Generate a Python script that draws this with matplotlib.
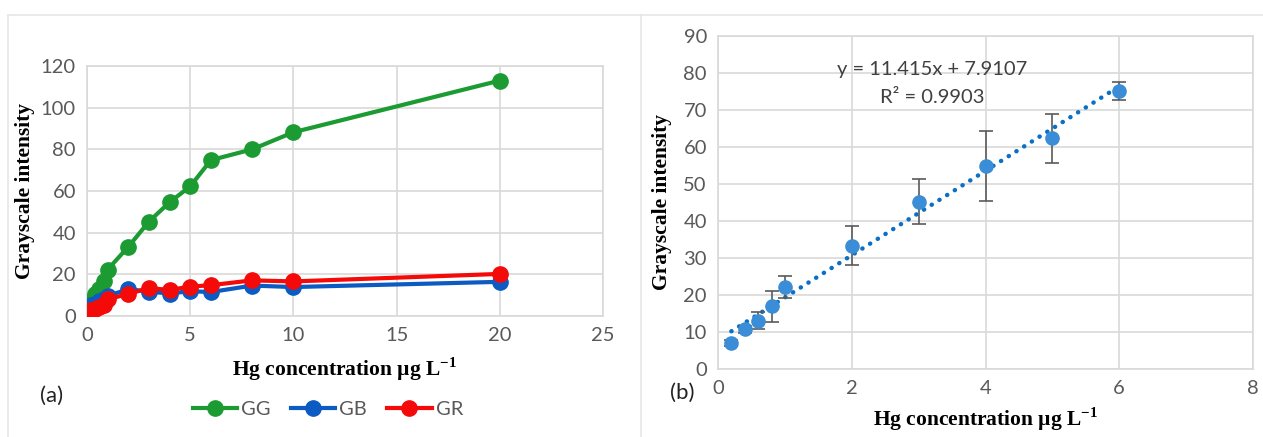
import matplotlib
matplotlib.use("Agg")
import matplotlib.pyplot as plt
from matplotlib.lines import Line2D
import numpy as np

# ---- data ----
conc_all = [0.2, 0.4, 0.6, 0.8, 1, 2, 3, 4, 5, 6, 8, 10, 20]
gg = [7, 10.8, 13.2, 17, 22.3, 33.2, 45.3, 54.6, 62.2, 74.8, 80, 88.2, 113]
gb = [5.5, 6.0, 7.0, 8.0, 9.6, 12.9, 11.7, 10.8, 11.9, 11.5, 14.6, 13.9, 16.4]
gr = [3.0, 3.6, 4.4, 5.5, 8.0, 10.6, 13.4, 12.5, 14.1, 14.8, 17.1, 16.6, 20.2]

conc_lin = [0.2, 0.4, 0.6, 0.8, 1, 2, 3, 4, 5, 6]
gray_lin = [7.0, 10.7, 13.1, 16.9, 22.2, 33.3, 45.2, 54.8, 62.3, 75.1]
err_lin = [0.8, 1.0, 2.3, 4.2, 2.9, 5.3, 6.1, 9.4, 6.7, 2.4]
slope, intercept = 11.415, 7.9107
r2 = 0.9903

GREEN = "#1C9B33"
BLUE = "#0B5BC2"
RED = "#F50A0A"
PT = "#3A8DD6"
TREND = "#0A6FC6"
GRID = "#D9D9D9"
TICK = "#595959"

fig = plt.figure(figsize=(12.63, 4.37), dpi=100)
W, H = 1263, 437

def px(x0, y0, x1, y1):
    return [x0 / W, 1 - y1 / H, (x1 - x0) / W, (y1 - y0) / H]

TFAM = "Lato"
tickfont = dict(family=TFAM, size=14.5, color=TICK)
labfont = dict(family="Liberation Serif", weight="bold", size=15.5, color="black")

# frame lines
fig.add_artist(Line2D([8 / W, 1], [1 - 15 / H] * 2, color="#E6E6E6", lw=1.2))
fig.add_artist(Line2D([8 / W] * 2, [0, 1 - 15 / H], color="#E6E6E6", lw=1.2))
fig.add_artist(Line2D([641 / W] * 2, [0, 1 - 15 / H], color="#E6E6E6", lw=1.2))

def style(ax):
    ax.grid(True, color=GRID, lw=1.2)
    ax.set_axisbelow(True)
    for s in ax.spines.values():
        s.set_color(GRID)
        s.set_linewidth(1.2)
    ax.tick_params(length=0, pad=8)
    for lab in ax.get_xticklabels() + ax.get_yticklabels():
        lab.set_fontfamily(tickfont["family"])
        lab.set_fontsize(tickfont["size"])
        lab.set_color(TICK)

# ---- panel (a) ----
ax1 = fig.add_axes(px(87, 66, 603, 316))
ax1.plot(conc_all, gg, "-o", color=GREEN, lw=3, ms=11, label="GG", zorder=3)
ax1.plot(conc_all, gb, "-o", color=BLUE, lw=3, ms=11, label="GB", zorder=4)
ax1.plot(conc_all, gr, "-o", color=RED, lw=3, ms=11, label="GR", zorder=5)
ax1.set_xlim(0, 25)
ax1.set_ylim(0, 120)
ax1.set_xticks(range(0, 26, 5))
ax1.set_yticks(range(0, 121, 20))
style(ax1)
ax1.set_xlabel("Hg concentration \u00b5g L$^{\\mathregular{-1}}$", fontdict=labfont, labelpad=8)
ax1.set_ylabel("Grayscale intensity", fontdict=labfont, labelpad=4)
leg = fig.legend(handles=ax1.get_lines(), loc="center", bbox_to_anchor=(328 / W, 1 - 409 / H),
                 ncol=3, frameon=False, handlelength=2.2, columnspacing=1.0, handletextpad=0.2,
                 prop=dict(family=TFAM, size=14.5))
for t in leg.get_texts():
    t.set_color(TICK)
fig.text(40 / W, 1 - 396 / H, "(a)", fontsize=16, family=TFAM, va="center", color="#222222")

# ---- panel (b) ----
ax2 = fig.add_axes(px(718, 36, 1253, 369))
xs = np.array([conc_lin[0], conc_lin[-1]])
ax2.plot(xs, slope * xs + intercept, linestyle=(0, (0.05, 2.0)), color=TREND, lw=3.2,
         dash_capstyle="round", zorder=2)
ax2.errorbar(conc_lin, gray_lin, yerr=err_lin, fmt="o", color=PT, ms=9.5, ecolor="#5A5A5A",
             elinewidth=1.2, capsize=5, capthick=1.2, zorder=3)
ax2.set_xlim(0, 8)
ax2.set_ylim(0, 90)
ax2.set_xticks(range(0, 9, 2))
ax2.set_yticks(range(0, 91, 10))
style(ax2)
ax2.set_xlabel("Hg concentration \u00b5g L$^{\\mathregular{-1}}$", fontdict=labfont, labelpad=6)
ax2.set_ylabel("Grayscale intensity", fontdict=labfont, labelpad=8)
ax2.text(3.2, 81, f"y = {slope}x + {intercept}", ha="center", va="center",
         fontsize=14.5, family=TFAM, color="#404040")
ax2.text(3.2, 73.5, f"R\u00b2 = {r2}", ha="center", va="center",
         fontsize=14.5, family=TFAM, color="#404040")
fig.text(670 / W, 1 - 393 / H, "(b)", fontsize=16, family=TFAM, va="center", color="#222222")

fig.savefig("out.png", dpi=100)
